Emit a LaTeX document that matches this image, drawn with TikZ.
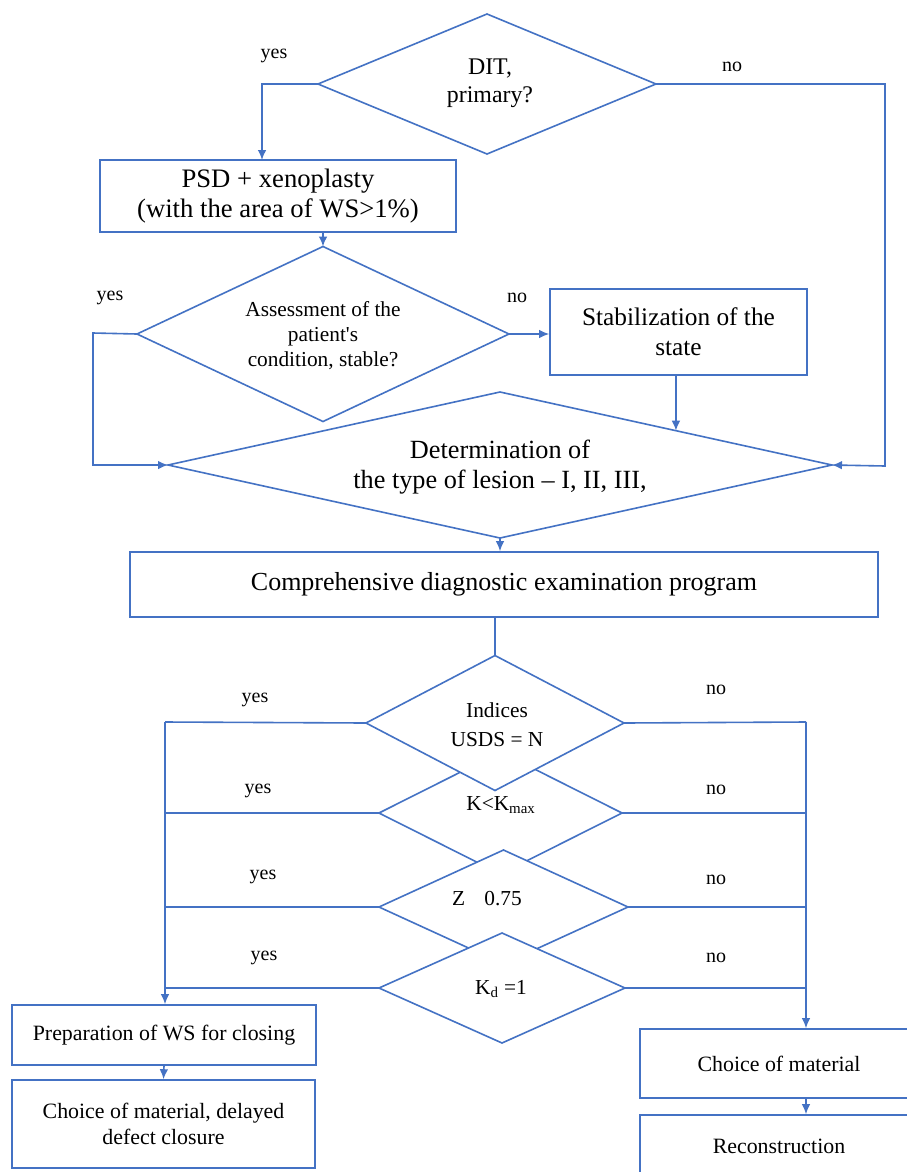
\documentclass[tikz,border=0pt]{standalone}
\usepackage{fontspec}
\setmainfont{Liberation Serif}
\usetikzlibrary{arrows.meta,calc}
\definecolor{fblue}{RGB}{68,114,196}
\newcommand\mydmd[5]{%
  \coordinate (#1-l) at (#2-#4,#3);
  \coordinate (#1-r) at (#2+#4,#3);
  \coordinate (#1-t) at (#2,#3-#5);
  \coordinate (#1-b) at (#2,#3+#5);
  \draw[fill=white] (#1-l) -- (#1-t) -- (#1-r) -- (#1-b) -- cycle;}
\newcommand\fs[2]{\fontsize{#1}{#2}\selectfont}
\begin{document}
\begin{tikzpicture}[x=0.75pt,y=-0.75pt,line width=1.2pt,draw=fblue,
  arr/.style={-{Latex[length=7.5pt,width=6.5pt]}},
  box/.style={draw=fblue,fill=white,rectangle,inner sep=2pt,align=center},
  txt/.style={align=center,inner sep=0pt,text=black},
  lbl/.style={inner sep=0pt,text=black,font=\fs{15}{18}}]
\useasboundingbox (0,0) rectangle (907,1172);
\clip (0,0) rectangle (907,1172);
\fill[white] (0,0) rectangle (907,1172);

% diamonds
\mydmd{d1}{487}{84}{169}{70}
\mydmd{d2}{323}{334}{186}{87.5}
\mydmd{det}{500}{465}{332}{73}
\mydmd{k}{500.5}{813}{121.5}{61}
\mydmd{ind}{495}{723}{129}{67.5}
\mydmd{z}{503.5}{907}{124.5}{57}
\mydmd{kd}{502}{988}{123}{55}

% boxes
\node[box,minimum width=267pt,minimum height=54pt,font=\fs{20}{23}] (psd) at (278,196)
  {PSD + xenoplasty\\(with the area of WS>1\%)};
\node[box,minimum width=192.75pt,minimum height=64.5pt,font=\fs{19}{22.5}] (stab) at (678.5,332)
  {Stabilization of the\\state};
\node[box,minimum width=561pt,minimum height=48.75pt,font=\fs{19.5}{23}] (comp) at (504,584.5)
  {Comprehensive diagnostic examination program};
\node[box,minimum width=228pt,minimum height=45pt,font=\fs{16.4}{19.5}] (prep) at (164,1035)
  {Preparation of WS for closing};
\node[box,minimum width=227.25pt,minimum height=66pt,font=\fs{16.4}{19.5}] (delay) at (163.5,1124)
  {Choice of material, delayed\\defect closure};
\node[box,minimum width=208.5pt,minimum height=51.75pt,font=\fs{16.4}{19.5}] (mat) at (779,1063.5)
  {Choice of material};
\node[box,minimum width=208.5pt,minimum height=46.5pt,font=\fs{16.4}{19.5}] (recon) at (779,1146)
  {Reconstruction};

% diamond texts
\node[txt,font=\fs{17.9}{21}] (t1) at (490,83) {DIT,\\primary?};
\node[txt,font=\fs{16}{18.75}] (t2) at (323,336) {Assessment of the\\patient\textquotesingle s\\condition, stable?};
\node[txt,font=\fs{19.7}{22.5}] (t3) at (500,467) {Determination of\\the type of lesion – I, II, III,};
\node[txt,font=\fs{16}{21.75}] (t4) at (497,725) {Indices\\USDS = N};
\node[txt,font=\fs{16}{19}] (t5) at (501,805) {K<K\textsubscript{max}};
\node[txt,font=\fs{16}{19}] (t6) at (487,899) {Z\hspace{0.9em}0.75};
\node[txt,font=\fs{16}{19}] (t7) at (501,989) {K\textsubscript{d} =1};

% coordinates
\coordinate (y1) at (262,160);
\coordinate (n1) at (885,466);
\coordinate (y2) at (93,333);
\coordinate (det-s) at ($(det-t)!0.53!(det-r)$);
\coordinate (lb) at (165,722);
\coordinate (rb) at (806,722);

% connectors
\draw[arr] (d1-l) -| (y1);
\draw[arr] (d1-r) -| (n1) -- (det-r);
\draw[arr] (psd.south -| d2-t) -- (d2-t);
\draw[arr] (d2-l) -- (y2) |- (det-l);
\draw[arr] (d2-r) -- (d2-r -| stab.west);
\draw[arr] (stab.south -| det-s) -- (det-s);
\draw[arr] (det-b) -- (det-b |- comp.north);
\draw (ind-t |- comp.south) -- (ind-t);
\draw (ind-l) -- (lb);
\draw[arr] (lb) -- (lb |- prep.north);
\draw (k-l) -- (k-l -| lb);
\draw (z-l) -- (z-l -| lb);
\draw (kd-l) -- (kd-l -| lb);
\draw (ind-r) -- (rb);
\draw[arr] (rb) -- (rb |- mat.north);
\draw (k-r) -- (k-r -| rb);
\draw (z-r) -- (z-r -| rb);
\draw (kd-r) -- (kd-r -| rb);
\draw[arr] (prep.south) -- (delay.north);
\draw[arr] (mat.south -| rb) -- (recon.north -| rb);

% labels
\node[lbl] (ly1) at (274,56) {yes};
\node[lbl] (ln1) at (732,67) {no};
\node[lbl] (ly2) at (110,298) {yes};
\node[lbl] (ln2) at (517,298) {no};
\node[lbl] (ly3) at (255,700) {yes};
\node[lbl] (ln3) at (716,690) {no};
\node[lbl] (ly4) at (258,791) {yes};
\node[lbl] (ln4) at (716,790) {no};
\node[lbl] (ly5) at (263,877) {yes};
\node[lbl] (ln5) at (716,880) {no};
\node[lbl] (ly6) at (264,958) {yes};
\node[lbl] (ln6) at (716,958) {no};
\end{tikzpicture}
\end{document}
